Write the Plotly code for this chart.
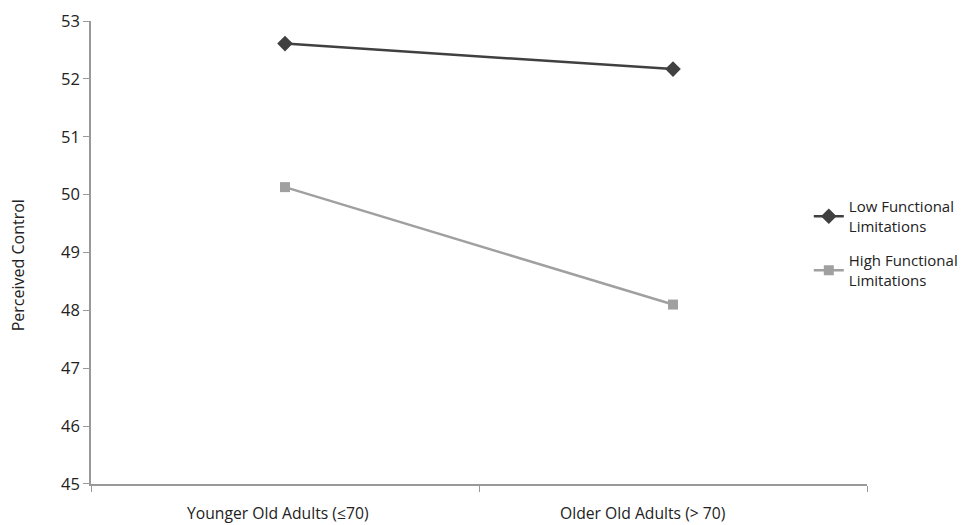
import plotly.graph_objects as go

categories = ["Younger Old Adults (≤70)", "Older Old Adults (> 70)"]
low_fl = [52.61, 52.17]
high_fl = [50.13, 48.10]
series_names = ["Low Functional<br>Limitations", "High Functional<br>Limitations"]
y_ticks = [45, 46, 47, 48, 49, 50, 51, 52, 53]
y_title = "Perceived Control"

font = "Open Sans, Lato, sans-serif"

fig = go.Figure()
fig.add_trace(go.Scatter(
    x=categories, y=low_fl, name=series_names[0], mode="lines+markers",
    line=dict(color="#404040", width=2.5),
    marker=dict(symbol="diamond", size=12, color="#404040"),
    legendgroup="a"))
fig.add_trace(go.Scatter(
    x=categories, y=high_fl, name=series_names[1], mode="lines+markers",
    line=dict(color="#a0a0a0", width=2.5),
    marker=dict(symbol="square", size=10, color="#a0a0a0"),
    legendgroup="b"))

# category labels (placed as annotations to match the original's offsets)
label_shifts = [-7, -31]
for cat, dx in zip(categories, label_shifts):
    fig.add_annotation(x=cat, xref="x", y=0, yref="paper", text=cat,
                       showarrow=False, xanchor="center", yanchor="middle",
                       xshift=dx, yshift=-29,
                       font=dict(size=15.7, color="#222", family=font))

fig.add_annotation(x=-0.0937, xref="paper", y=0.473, yref="paper", text=y_title,
                   textangle=-90, showarrow=False, xanchor="center", yanchor="middle",
                   font=dict(size=16, color="#222", family=font))

fig.update_layout(
    width=967, height=525,
    margin=dict(l=83, r=105, t=13, b=49),
    paper_bgcolor="white", plot_bgcolor="white",
    font=dict(family=font, size=15, color="#222"),
    showlegend=True,
    legend=dict(x=0.925, y=0.52, xanchor="left", yanchor="middle",
                font=dict(size=15, color="#222"), tracegroupgap=12,
                bgcolor="rgba(0,0,0,0)"),
    xaxis=dict(type="category", range=[-0.5, 1.5], tickson="boundaries",
               ticks="outside", ticklen=6, tickcolor="#999",
               showline=True, linecolor="#999", linewidth=1.5,
               showgrid=False, zeroline=False, showticklabels=False,
               automargin=False),
    yaxis=dict(range=[44.999, 53.001], tickvals=y_ticks, ticks="outside", ticklen=6,
               tickcolor="#999", showline=True, linecolor="#999", linewidth=1.5,
               showgrid=False, zeroline=False, automargin=False,
               ticklabeloverflow="allow",
               tickfont=dict(size=16.5, color="#222")),
)

fig.write_html("out.html")
